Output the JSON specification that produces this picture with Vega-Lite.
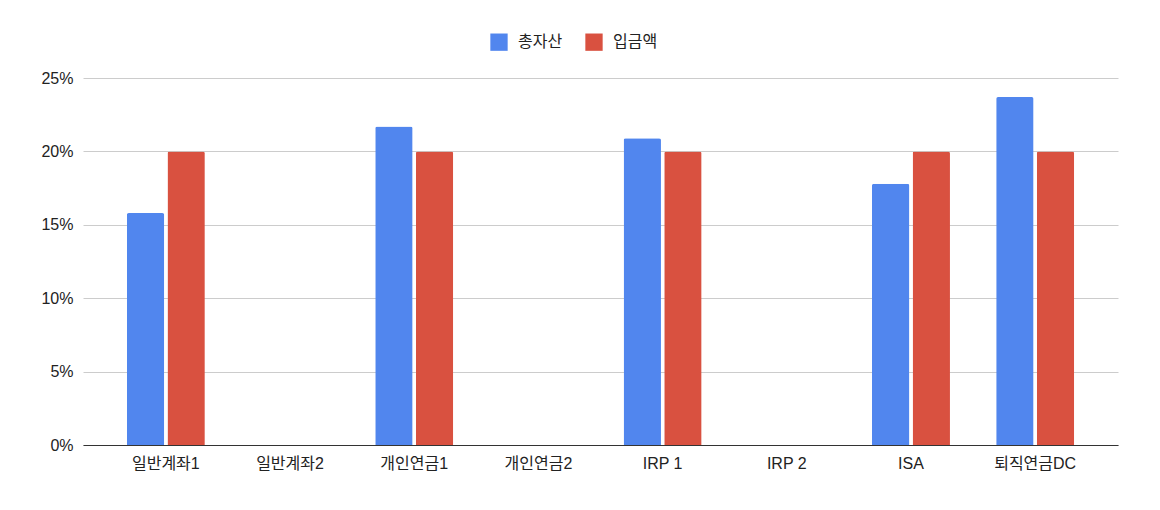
{
  "$schema": "https://vega.github.io/schema/vega-lite/v6.json",
  "autosize": {"type": "none"},
  "width": 1035,
  "height": 367,
  "padding": {"left": 83, "top": 78, "right": 42, "bottom": 65},
  "background": "white",
  "data": {
    "values": [
      {"계좌": "일반계좌1", "구분": "총자산", "비율": 0.158},
      {"계좌": "일반계좌1", "구분": "입금액", "비율": 0.20},
      {"계좌": "개인연금1", "구분": "총자산", "비율": 0.217},
      {"계좌": "개인연금1", "구분": "입금액", "비율": 0.20},
      {"계좌": "IRP 1", "구분": "총자산", "비율": 0.209},
      {"계좌": "IRP 1", "구분": "입금액", "비율": 0.20},
      {"계좌": "ISA", "구분": "총자산", "비율": 0.178},
      {"계좌": "ISA", "구분": "입금액", "비율": 0.20},
      {"계좌": "퇴직연금DC", "구분": "총자산", "비율": 0.237},
      {"계좌": "퇴직연금DC", "구분": "입금액", "비율": 0.20}
    ]
  },
  "mark": {"type": "bar", "cornerRadiusTopLeft": 2, "cornerRadiusTopRight": 2},
  "encoding": {
    "x": {
      "field": "계좌",
      "type": "nominal",
      "sort": null,
      "scale": {
        "domain": ["일반계좌1", "일반계좌2", "개인연금1", "개인연금2", "IRP 1", "IRP 2", "ISA", "퇴직연금DC"],
        "paddingInner": 0.372,
        "paddingOuter": 0.353
      },
      "axis": {
        "title": null,
        "labelAngle": 0,
        "ticks": false,
        "domainColor": "#333333",
        "domainWidth": 1,
        "labelFont": "Liberation Sans, Noto Sans CJK KR",
        "labelFontSize": 16,
        "labelColor": "#222222",
        "labelPadding": 10,
        "grid": false
      }
    },
    "xOffset": {
      "field": "구분",
      "type": "nominal",
      "sort": ["총자산", "입금액"],
      "scale": {"paddingInner": 0.08, "paddingOuter": 0}
    },
    "y": {
      "field": "비율",
      "type": "quantitative",
      "scale": {"domain": [0, 0.25]},
      "axis": {
        "title": null,
        "format": ".0%",
        "values": [0, 0.05, 0.1, 0.15, 0.2, 0.25],
        "domain": false,
        "ticks": false,
        "gridColor": "#cccccc",
        "labelFont": "Liberation Sans, Noto Sans CJK KR",
        "labelFontSize": 16,
        "labelColor": "#222222",
        "labelPadding": 10
      }
    },
    "color": {
      "field": "구분",
      "type": "nominal",
      "sort": ["총자산", "입금액"],
      "scale": {"domain": ["총자산", "입금액"], "range": ["#5186ee", "#d95140"]},
      "legend": {
        "title": null,
        "orient": "none",
        "direction": "horizontal",
        "legendX": 407,
        "legendY": -45,
        "symbolType": "square",
        "symbolSize": 300,
        "symbolStrokeWidth": 0,
        "labelFont": "Noto Sans CJK KR",
        "labelFontSize": 16,
        "labelColor": "#222222",
        "columnPadding": 22,
        "labelOffset": 10
      }
    }
  },
  "config": {
    "view": {"stroke": null},
    "axis": {"gridWidth": 1}
  }
}
